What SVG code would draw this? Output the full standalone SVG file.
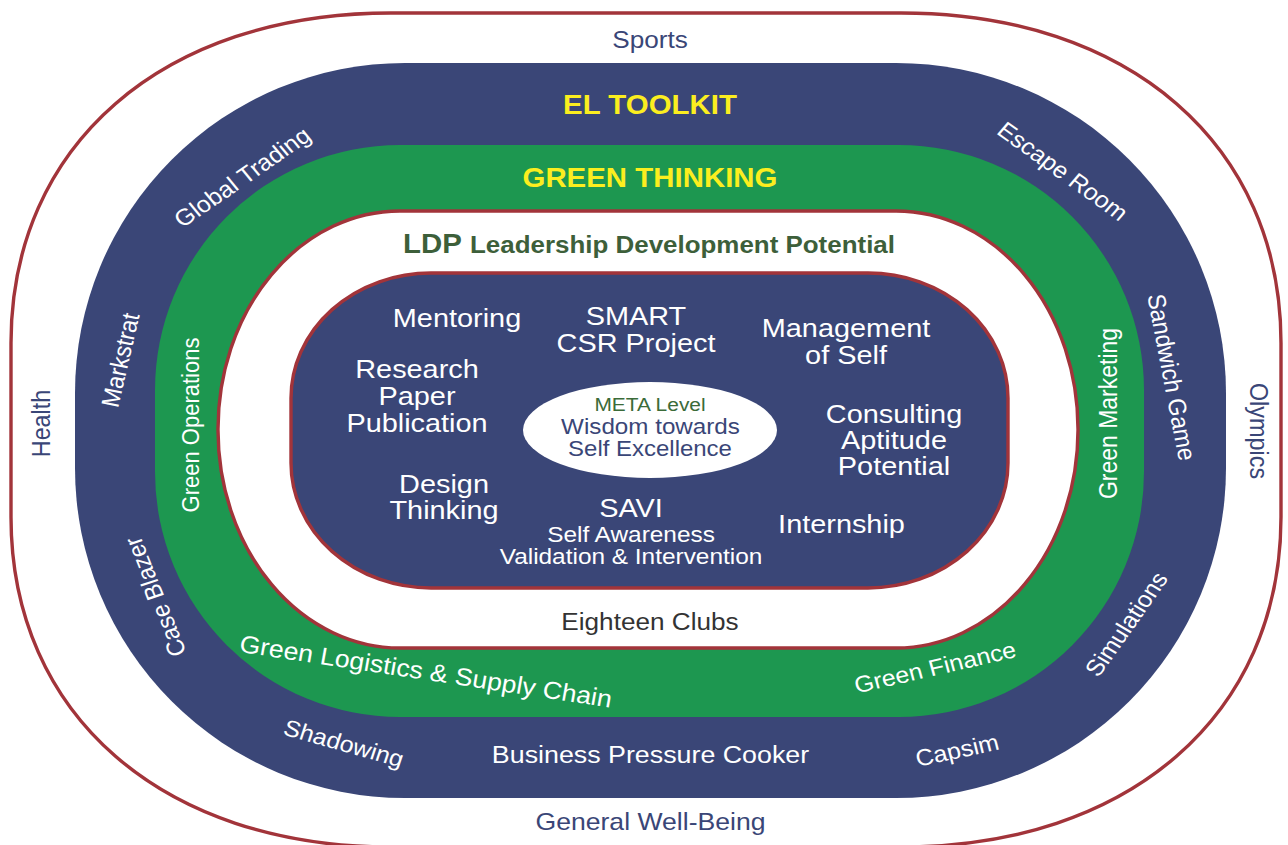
<svg xmlns="http://www.w3.org/2000/svg" width="1288" height="845" viewBox="0 0 1288 845">
<style>
text{font-family:"Liberation Sans",Arial,Helvetica,sans-serif;text-anchor:middle}
.nv{fill:#3a4677}
.w{fill:#ffffff}
.yl{fill:#fbee1f;font-weight:bold;font-size:27px}
.ring{font-size:24px}
.band{font-size:23px;fill:#ffffff}
.core{font-size:26.5px;fill:#ffffff}
.sub{font-size:22.4px;fill:#ffffff}
.redline{stroke:#a2343a;stroke-width:3.4}
</style>
<rect width="1288" height="845" fill="#ffffff"/>

<g id="ring-outer">
<path d="M391,13 H901 C1129,13 1281,145 1281,343 V517 C1281,715 1129,847 901,847 H391 C163,847 11,715 11,517 V343 C11,145 163,13 391,13 Z" fill="#ffffff" class="redline"/>
<text class="nv ring" transform="translate(650 48) scale(1.09 1)">Sports</text>
<text class="nv ring" style="font-size:24.4px" transform="translate(650.5 830) scale(1.09 1)">General Well-Being</text>
<text class="nv ring" style="font-size:23.3px" transform="translate(41 423.5) scale(1.09 1) rotate(-90)" dy=".36em">Health</text>
<text class="nv ring" style="font-size:23.4px" transform="translate(1259 431) scale(1.09 1) rotate(90)" dy=".36em">Olympics</text>
</g>

<g id="ring-el-toolkit">
<rect x="75" y="63" width="1151" height="735" rx="330" ry="330" fill="#3a4677"/>
<text class="yl" transform="translate(650 114) scale(1.09 1)">EL TOOLKIT</text>
<text class="band" transform="translate(242 177) scale(1.09 1) rotate(-37)" dy=".36em">Global Trading</text>
<text class="band" transform="translate(1063 171) scale(1.09 1) rotate(38)" dy=".36em">Escape Room</text>
<text class="band" transform="translate(120 360) scale(1.09 1) rotate(-78)" dy=".36em">Markstrat</text>
<text class="band" transform="translate(1172 377) scale(1.09 1) rotate(80)" dy=".36em">Sandwich Game</text>
<text class="band" transform="translate(155 597) scale(1.09 1) rotate(-110)" dy=".36em">Case Blazer</text>
<text class="band" transform="translate(1126 624) scale(1.09 1) rotate(-57)" dy=".36em">Simulations</text>
<text class="band" transform="translate(344 743) scale(1.09 1) rotate(17)" dy=".36em">Shadowing</text>
<text class="band" transform="translate(957 750) scale(1.09 1) rotate(-13)" dy=".36em">Capsim</text>
<text class="band" style="font-size:24.6px" transform="translate(650.5 763) scale(1.09 1)">Business Pressure Cooker</text>
</g>

<g id="ring-green-thinking">
<rect x="155" y="145" width="989" height="572" rx="245" ry="245" fill="#1d9750"/>
<text class="yl" transform="translate(650 187) scale(1.09 1)">GREEN THINKING</text>
<text class="band" style="font-size:22px" transform="translate(190 425) scale(1.09 1) rotate(-90)" dy=".36em">Green Operations</text>
<text class="band" transform="translate(1108 413.5) scale(1.09 1) rotate(-90)" dy=".36em">Green Marketing</text>
<text class="band" style="font-size:24.5px" transform="translate(426 671) scale(1.09 1) rotate(9.3)" dy=".36em">Green Logistics &amp; Supply Chain</text>
<text class="band" transform="translate(935 667) scale(1.09 1) rotate(-14)" dy=".36em">Green Finance</text>
</g>

<g id="ring-ldp">
<rect x="218" y="211" width="860" height="437" rx="182" ry="218" fill="#ffffff" class="redline"/>
<text transform="translate(403 253) scale(1.09 1)" style="text-anchor:start;font-weight:bold;fill:#3d5f3a"><tspan style="font-size:27px">LDP</tspan><tspan x="61.5" style="font-size:23.8px">Leadership Development Potential</tspan></text>
<text transform="translate(650 630) scale(1.09 1)" style="font-size:24px;fill:#333333">Eighteen Clubs</text>
</g>

<g id="core">
<rect x="291" y="273" width="717" height="315" rx="140" ry="125" fill="#3a4677" class="redline"/>
<text class="core" transform="translate(457 327) scale(1.09 1)">Mentoring</text>
<text class="core" transform="translate(636 325) scale(1.09 1)"><tspan x="0" y="0">SMART</tspan><tspan x="0" y="27">CSR Project</tspan></text>
<text class="core" transform="translate(846 337) scale(1.09 1)"><tspan x="0" y="0">Management</tspan><tspan x="0" y="27">of Self</tspan></text>
<text class="core" transform="translate(417 378) scale(1.09 1)"><tspan x="0" y="0">Research</tspan><tspan x="0" y="27">Paper</tspan><tspan x="0" y="54">Publication</tspan></text>
<text class="core" transform="translate(894 423) scale(1.09 1)"><tspan x="0" y="0">Consulting</tspan><tspan x="0" y="26">Aptitude</tspan><tspan x="0" y="52">Potential</tspan></text>
<text class="core" transform="translate(444 493) scale(1.09 1)"><tspan x="0" y="0">Design</tspan><tspan x="0" y="26">Thinking</tspan></text>
<text class="core" transform="translate(631 517) scale(1.09 1)">SAVI</text>
<text class="sub" transform="translate(631 542) scale(1.09 1)"><tspan x="0" y="0">Self Awareness</tspan><tspan x="0" y="22">Validation &amp; Intervention</tspan></text>
<text class="core" transform="translate(841.5 533) scale(1.09 1)">Internship</text>
</g>

<g id="meta">
<ellipse cx="650" cy="430" rx="127" ry="48" fill="#ffffff"/>
<text transform="translate(650 411) scale(1.09 1)" style="font-size:19.2px;fill:#3b6b39">META Level</text>
<text class="nv" transform="translate(650.5 434) scale(1.09 1)" style="font-size:22.2px">Wisdom towards</text>
<text class="nv" transform="translate(650 456) scale(1.09 1)" style="font-size:22px">Self Excellence</text>
</g>

<g id="connectors"></g>
</svg>
